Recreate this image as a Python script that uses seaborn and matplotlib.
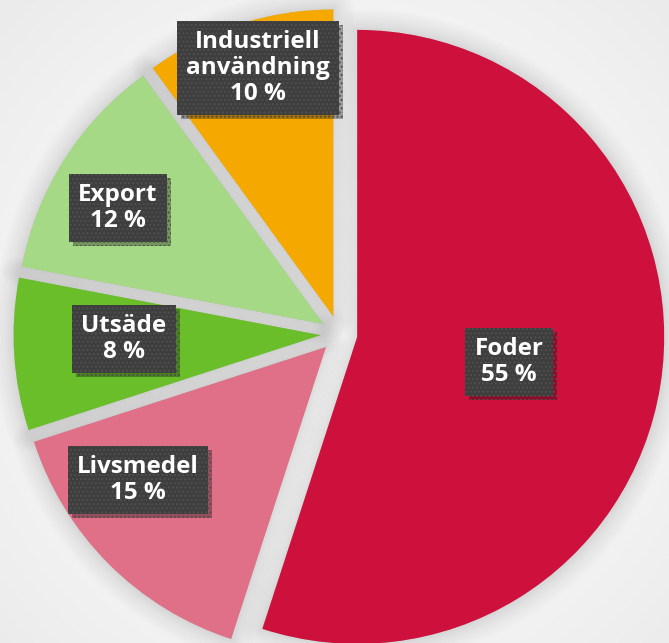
import numpy as np
import matplotlib
matplotlib.use("Agg")
import matplotlib.pyplot as plt
import matplotlib.patheffects as pe
import seaborn as sns

# ---- data ----
categories = ["Foder", "Livsmedel", "Utsäde", "Export", "Industriell\nanvändning"]
shares = [55, 15, 8, 12, 10]
slice_colors = ["#CE103C", "#E07088", "#6ABE2A", "#A5D985", "#F5A800"]
# label box centres in pixel coordinates of the 669x643 image
label_px = [(509, 362), (138, 480), (124, 339), (118, 208), (258, 68)]

sns.set_theme(style="white")
plt.rcParams["font.family"] = ["Open Sans", "DejaVu Sans"]

W, H = 669, 643
CX, CY, R = 339, 334, 307  # pie centre / radius in pixels
fig = plt.figure(figsize=(W / 100, H / 100), dpi=100)
ax = fig.add_axes([0, 0, 1, 1])

xlim = (-CX / R, (W - CX) / R)
ylim = (-(H - CY) / R, CY / R)

# background radial gradient
gx = np.linspace(xlim[0], xlim[1], 300)
gy = np.linspace(ylim[0], ylim[1], 300)
GX, GY = np.meshgrid(gx, gy)
dist = np.sqrt(GX ** 2 + GY ** 2) / 1.5
val = 0.975 - 0.055 * np.clip(dist, 0, 1) ** 2
ax.imshow(val, extent=(xlim[0], xlim[1], ylim[0], ylim[1]), origin="lower",
          cmap="gray", vmin=0, vmax=1, zorder=0, aspect="auto", interpolation="bilinear")

explode = [0.06] * len(shares)

# soft shadow
for lw in [30, 26, 22, 18, 14, 11, 8, 5, 3]:
    ws, _ = ax.pie(shares, explode=explode, startangle=90, counterclock=False,
                   colors=["#000000"] * len(shares),
                   wedgeprops=dict(edgecolor="#000000", linewidth=lw, alpha=0.011,
                                   joinstyle="round"))
    for w in ws:
        w.set_zorder(1)

wedges, _ = ax.pie(shares, explode=explode, startangle=90, counterclock=False,
                   colors=slice_colors, wedgeprops=dict(linewidth=0))
for w in wedges:
    w.set_zorder(2)

for (px, py), cat, s in zip(label_px, categories, shares):
    x = (px - CX) / R
    y = (CY - py) / R
    t = ax.text(x, y, f"{cat}\n{s} %", ha="center", va="center", multialignment="center",
                color="white", fontsize=17.5, fontweight="bold", linespacing=1.1, zorder=5,
                bbox=dict(boxstyle="square,pad=0.38", facecolor="#3E3E3E",
                          edgecolor="#4F4F4F", linewidth=0, hatch="...."))
    t.get_bbox_patch().set_path_effects([
        pe.SimplePatchShadow(offset=(3, -3), shadow_rgbFace="#000000", alpha=0.3),
        pe.Normal()])

ax.set_xlim(*xlim)
ax.set_ylim(*ylim)
ax.set_aspect("auto")
ax.axis("off")

fig.savefig("out.png", dpi=100)
